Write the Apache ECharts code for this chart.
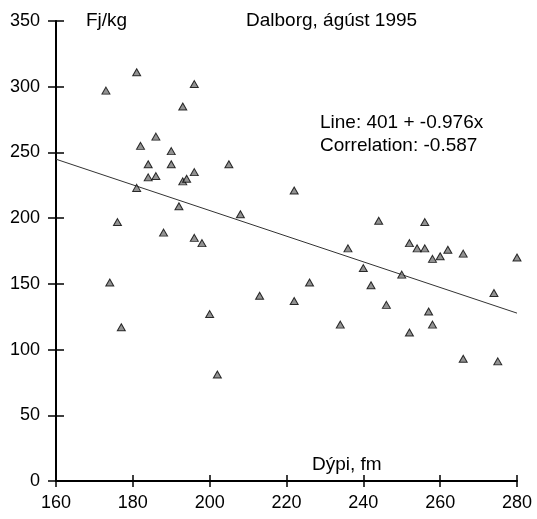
<!DOCTYPE html>
<html lang="is">
<head>
<meta charset="UTF-8">
<title>Dalborg, ágúst 1995</title>
<script src="https://cdn.jsdelivr.net/npm/echarts@6.0.0/dist/echarts.min.js"></script>
<style>
  html, body { margin: 0; padding: 0; background: #fff; }
  #chart { width: 537px; height: 519px; }
</style>
</head>
<body>
<div id="chart"></div>
<script>
// depth (fm) and Fj/kg
var depth = [173, 174, 176, 177, 181, 181, 182, 184, 184, 186, 186, 188, 190, 190, 192, 193, 193, 194,
             196, 196, 196, 198, 200, 202, 205, 208, 213, 222, 222, 226, 234, 236, 240, 242, 244, 246,
             250, 252, 252, 254, 256, 256, 257, 258, 258, 260, 262, 266, 266, 274, 275, 280];
var fjkg = [297, 151, 197, 117, 311, 223, 255, 241, 231, 262, 232, 189, 251, 241, 209, 285, 228, 230,
            302, 235, 185, 181, 127, 81, 241, 203, 141, 221, 137, 151, 119, 177, 162, 149, 198, 134,
            157, 181, 113, 177, 197, 177, 129, 169, 119, 171, 176, 173, 93, 143, 91, 170];

// fitted line as printed on the chart
var intercept = 401;
var slope = -0.976;
var lineX = [160, 280];

var xTicks = { min: 160, max: 280, interval: 20 };
var yTicks = { min: 0, max: 350, interval: 50 };

var font = '"Liberation Sans", Arial, sans-serif';

var points = depth.map(function (d, i) { return [d, fjkg[i]]; });
var fitLine = lineX.map(function (x) { return [x, intercept + slope * x]; });

var chart = echarts.init(document.getElementById('chart'));

// two axes per direction so the ticks cross the axis line
function xAxis(inside, labels) {
  return {
    type: 'value', position: 'bottom',
    min: xTicks.min, max: xTicks.max, interval: xTicks.interval,
    splitLine: { show: false },
    axisLine: { show: labels, onZero: false, lineStyle: { color: '#000', width: 2 } },
    axisTick: { show: true, inside: inside, length: 6, lineStyle: { color: '#000', width: 1.5 } },
    axisLabel: { show: labels, margin: 13, color: '#000', fontSize: 18, fontFamily: font }
  };
}
function yAxis(inside, labels) {
  return {
    type: 'value', position: 'left',
    min: yTicks.min, max: yTicks.max, interval: yTicks.interval,
    splitLine: { show: false },
    axisLine: { show: labels, onZero: false, lineStyle: { color: '#000', width: 2 } },
    axisTick: { show: true, inside: inside, length: 8, lineStyle: { color: '#000', width: 1.5 } },
    axisLabel: { show: labels, margin: 16, color: '#000', fontSize: 18, fontFamily: font }
  };
}

chart.setOption({
  animation: false,
  backgroundColor: '#fff',
  grid: { left: 56, right: 20, top: 21, bottom: 38 },
  xAxis: [xAxis(false, true), xAxis(true, false)],
  yAxis: [yAxis(false, true), yAxis(true, false)],
  series: [
    {
      type: 'line',
      data: fitLine,
      showSymbol: false,
      lineStyle: { color: '#333', width: 1 },
      z: 2
    },
    {
      type: 'scatter',
      data: points,
      symbol: 'triangle',
      symbolSize: [8, 7],
      itemStyle: { color: '#777', borderColor: '#000', borderWidth: 1 },
      z: 3
    }
  ],
  graphic: [
    { type: 'text', left: 86, top: 11, style: { text: 'Fj/kg', font: '19px ' + font, fill: '#000' } },
    { type: 'text', left: 246, top: 11, style: { text: 'Dalborg, ágúst 1995', font: '19px ' + font, fill: '#000' } },
    { type: 'text', left: 320, top: 113, style: { text: 'Line: 401 + -0.976x', font: '19px ' + font, fill: '#000' } },
    { type: 'text', left: 320, top: 136, style: { text: 'Correlation: -0.587', font: '19px ' + font, fill: '#000' } },
    { type: 'text', left: 312, top: 455, style: { text: 'Dýpi, fm', font: '19px ' + font, fill: '#000' } }
  ]
});
</script>
</body>
</html>
